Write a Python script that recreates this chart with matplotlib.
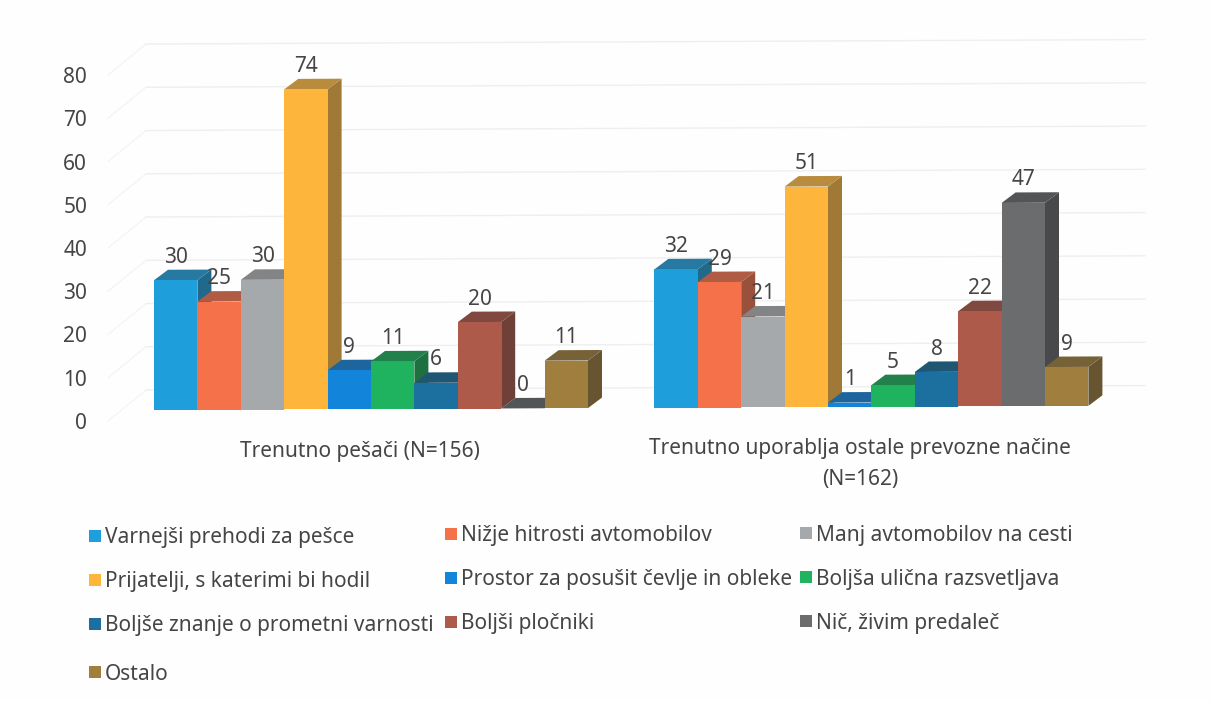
import matplotlib
matplotlib.use("Agg")
import matplotlib.pyplot as plt
from matplotlib.patches import Polygon, Rectangle
from matplotlib.colors import to_rgb

series = ["Varnejši prehodi za pešce", "Nižje hitrosti avtomobilov", "Manj avtomobilov na cesti",
          "Prijatelji, s katerimi bi hodil", "Prostor za posušit čevlje in obleke", "Boljša ulična razsvetljava",
          "Boljše znanje o prometni varnosti", "Boljši pločniki", "Nič, živim predaleč", "Ostalo"]
colors = ["#1E9FDC", "#F4714A", "#A6A9AB", "#FDB53C", "#1285DB", "#1FB25F", "#1B70A0", "#AE5A4A", "#6A6C6E", "#A07F3E"]
group_labels = ["Trenutno pešači (N=156)", "Trenutno uporablja ostale prevozne načine\n(N=162)"]
values_walk = [30, 25, 30, 74, 9, 11, 6, 20, 0, 11]
values_other = [32, 29, 21, 51, 1, 5, 8, 22, 47, 9]
yticks = [0, 10, 20, 30, 40, 50, 60, 70, 80]

W, H = 1211, 701
SLOT = 43.4
PX_PER_UNIT = 4.325
plt.rcParams["font.family"] = ["Noto Sans", "DejaVu Sans"]
TXT = "#454545"
FS = 15

fig = plt.figure(figsize=(W / 100, H / 100), dpi=100, facecolor="#FEFEFE")
L, R, B, T = 108, 1145, 421, 40
ax = fig.add_axes([L / W, 1 - B / H, (R - L) / W, (B - T) / H])
ax.set_xlim((L - 154) / SLOT, (R - 154) / SLOT)
ax.set_ylim(0, (B - T) / PX_PER_UNIT)
ax.patch.set_alpha(0)
for s in ax.spines.values():
    s.set_visible(False)
ax.set_xticks([])
ax.set_yticks(yticks)
ax.tick_params(axis="y", length=0, pad=15, labelsize=FS, labelcolor=TXT)

TILT = 0.045          # scan tilt, value units per slot
BASE = 2.54           # front of bars above front floor edge
DX, DY = 14 / SLOT, 10.5 / PX_PER_UNIT
WALL_DX, WALL_DY = 38 / SLOT, 7.16
xl = ax.get_xlim()[0]
back_x = xl + WALL_DX
for v in yticks:
    ax.plot([xl, back_x], [v, v + WALL_DY], color="#F4F4F4", lw=0.9, zorder=1, clip_on=False)
    ax.plot([back_x, ax.get_xlim()[1]],
            [v + WALL_DY, v + WALL_DY + TILT * (ax.get_xlim()[1] - back_x)],
            color="#EFEFEF", lw=1.0, zorder=1, clip_on=False)


def shade(c, f):
    rgb = [x * f for x in to_rgb(c)]
    g = sum(rgb) / 3
    return tuple(0.82 * x + 0.18 * g for x in rgb)


z = 2
label_items = []
group_starts = [0, 11.53]
for start, vals in zip(group_starts, [values_walk, values_other]):
    for i, (v, c) in enumerate(zip(vals, colors)):
        x0 = start + i
        s = BASE + TILT * x0
        s1 = BASE + TILT * (x0 + 1)
        ax.add_patch(Polygon([(x0 + 1, s1), (x0 + 1 + DX, s1 + DY), (x0 + 1 + DX, s1 + DY + v), (x0 + 1, s1 + v)],
                             closed=True, fc=shade(c, 0.68), ec="none", zorder=z, clip_on=False))
        ax.add_patch(Polygon([(x0, s + v), (x0 + DX, s + v + DY), (x0 + 1 + DX, s1 + v + DY), (x0 + 1, s1 + v)],
                             closed=True, fc=shade(c, 0.78), ec="none", zorder=z + 0.1, clip_on=False))
        ax.bar(x0 + 0.5, v, width=1, bottom=s, color=c, zorder=z + 0.2, clip_on=False)
        z += 1
        label_items.append((x0 + 0.5, s + v, v))

for x, y, v in label_items:
    ax.annotate(str(v), (x, y), xytext=(0, 23), textcoords="offset pixels", ha="center", va="center",
                fontsize=FS, color=TXT, zorder=100, annotation_clip=False)

for start, lab, dy in zip(group_starts, group_labels, [-20, -17]):
    ax.annotate(lab, (start + 5, 0), xytext=(-11, dy), textcoords="offset pixels", ha="center", va="top",
                fontsize=FS, color=TXT, linespacing=1.6, annotation_clip=False)

# legend, laid out row by row like the original
col_x = [89, 445, 800]
col_dy = [0, -2, -3]
row_y = [536, 580, 624, 672]
for k, (name, c) in enumerate(zip(series, colors)):
    r, col = divmod(k, 3)
    x, y = col_x[col], row_y[r] + col_dy[col]
    fig.add_artist(Rectangle((x / W, 1 - (y + 6) / H), 12 / W, 12 / H, transform=fig.transFigure, fc=c, ec="none"))
    fig.text((x + 16) / W, 1 - (y + 2) / H, name, ha="left", va="center", fontsize=FS, color=TXT)

fig.savefig("out.png", dpi=100, facecolor=fig.get_facecolor())
